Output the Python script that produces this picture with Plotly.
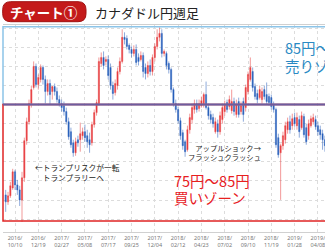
import plotly.graph_objects as go
import pandas as pd

# Weekly CAD/JPY candles, first week 2016-09-12
start_date = "2016-09-12"
opens = [77.24,76.64,77.16,77.84,79.22,78.10,77.67,76.81,78.71,81.90,83.53,85.09,86.47,88.28,86.72,87.16,88.19,87.16,86.12,86.81,
         86.12,86.55,86.12,85.43,85.09,84.91,84.40,83.53,82.67,81.72,80.86,81.98,81.98,82.33,82.67,82.33,81.98,81.72,83.28,84.31,
         85.09,88.53,89.05,88.71,88.88,88.19,86.64,86.03,86.64,87.84,88.71,90.78,90.69,90.09,89.74,89.40,89.74,89.05,88.88,89.22,
         88.19,87.67,88.36,87.84,89.05,90.00,90.78,91.12,89.40,89.40,88.53,88.02,86.29,85.09,84.57,83.62,82.59,81.81,81.12,82.84,
         83.71,84.57,85.09,84.66,84.91,85.00,85.86,84.74,84.14,83.88,82.67,83.36,82.67,83.71,84.40,85.17,84.83,84.48,85.26,84.14,
         85.26,84.40,85.26,84.74,86.12,87.16,87.84,86.55,85.95,85.60,85.43,86.29,85.86,85.69,85.60,85.00,84.57,82.16,80.86,81.47,
         81.98,82.84,83.53,83.19,83.88,83.19,83.71,83.02,83.97,83.02,82.33,83.19,83.53,83.71,83.19,82.84,82.50,81.98]
highs = [77.67,77.50,78.36,79.48,79.40,78.53,78.02,79.22,82.16,83.88,85.43,86.64,88.71,88.53,87.59,88.45,88.36,87.50,87.16,87.16,
         86.47,86.81,86.47,85.78,85.43,85.26,84.74,83.88,83.02,81.98,82.16,82.33,83.45,83.02,83.28,82.84,82.59,83.53,84.57,85.43,
         89.05,89.48,89.57,89.14,89.22,88.53,86.98,87.16,88.19,89.05,91.47,91.21,90.95,90.26,90.00,90.09,90.17,89.40,89.57,89.48,
         88.53,88.71,88.88,89.31,90.26,91.47,91.64,91.47,89.74,89.57,88.71,88.19,86.47,85.43,84.83,83.88,82.84,81.98,83.19,84.22,
         85.09,85.43,85.43,85.43,85.69,86.03,86.98,85.09,84.48,84.22,83.88,83.71,84.40,85.09,85.34,85.43,85.78,86.29,85.60,85.43,
         85.60,85.26,85.60,86.72,87.84,89.05,88.19,86.81,86.29,86.64,86.47,86.64,86.90,85.95,85.86,85.26,84.74,82.50,81.64,82.67,
         83.53,83.88,84.05,84.22,84.31,84.31,84.05,84.40,84.22,83.36,83.71,84.05,84.22,84.05,83.53,83.19,82.84,82.33]
lows = [75.78,76.38,76.98,77.67,77.67,77.24,76.29,74.91,78.36,81.55,83.28,84.74,86.29,86.47,86.29,86.90,86.72,85.09,85.78,85.00,
        85.43,85.78,85.17,84.83,84.40,84.05,83.28,81.98,81.29,80.52,80.60,81.38,80.95,81.98,81.81,81.29,80.86,81.47,83.02,84.05,
        84.91,88.28,88.02,88.36,87.16,86.29,85.43,85.78,86.29,87.59,88.53,90.17,89.74,89.40,89.05,89.14,88.36,88.36,88.71,87.33,
        87.16,87.33,87.50,87.50,88.71,89.74,90.43,89.05,89.14,88.02,87.67,86.03,84.83,84.31,83.36,81.98,81.12,80.52,80.95,82.50,
        83.36,84.22,84.31,84.40,84.74,84.74,84.57,83.71,83.36,83.02,82.50,82.16,82.41,83.36,84.05,84.31,84.57,84.22,84.05,83.88,
        83.88,84.14,83.53,84.40,85.86,86.98,86.12,85.43,85.09,85.43,85.09,85.43,85.00,84.91,84.57,84.31,81.29,80.43,76.81,81.12,
        81.64,82.50,82.50,82.84,83.10,82.84,82.16,82.84,82.16,81.55,81.98,83.02,83.28,82.84,82.33,81.98,81.12,80.95]
closes = [76.64,77.16,78.02,79.22,78.10,77.67,76.81,78.71,81.90,83.53,85.09,86.29,88.28,86.72,87.33,88.19,87.16,86.12,86.81,85.86,
          86.55,86.12,85.43,85.09,84.74,84.40,83.53,82.24,81.55,80.86,81.81,81.72,82.50,82.67,82.16,81.81,81.55,83.28,84.31,85.17,
          88.71,89.05,88.36,88.88,87.50,86.64,85.95,86.81,87.84,88.71,90.78,90.60,90.00,89.74,89.40,89.74,88.62,88.71,89.22,87.84,
          87.67,88.36,87.84,89.05,90.00,90.78,91.12,89.40,89.57,88.36,88.02,86.29,85.09,84.57,83.62,82.33,81.47,80.95,82.84,83.88,
          84.74,85.09,84.57,85.09,85.34,85.86,84.74,84.05,83.71,83.36,83.53,82.67,84.05,84.74,85.00,84.57,85.43,85.26,84.40,85.00,
          84.14,84.91,84.14,86.47,87.59,88.19,86.47,85.69,85.43,86.29,86.12,85.69,85.26,85.17,84.83,84.57,81.55,80.69,81.47,82.33,
          83.19,83.53,82.84,83.79,83.36,83.88,82.67,84.05,82.41,81.81,83.36,83.79,83.88,83.10,82.67,82.41,81.98,81.47]

tick_dates = ["2016-10-10","2016-12-19","2017-02-27","2017-05-08","2017-07-17","2017-09-25","2017-12-04",
              "2018-02-12","2018-04-23","2018-07-02","2018-09-10","2018-11-19","2019-01-28","2019-04-08"]
tick_labels = [d[:4] + "/<br>" + d[5:7] + "/" + d[8:10] for d in tick_dates]

dates = pd.date_range(start_date, periods=len(closes), freq="7D")

fig = go.Figure(go.Candlestick(
    x=dates, open=opens, high=highs, low=lows, close=closes,
    increasing=dict(line=dict(color="rgba(232,70,70,0.55)", width=1), fillcolor="#e8333a"),
    decreasing=dict(line=dict(color="rgba(50,100,190,0.55)", width=1), fillcolor="#1f5cb8"),
    whiskerwidth=0, hoverinfo="skip",
))

W, H = 325, 250
ml, mr, mt, mb = 3, 0, 25, 18
pw, ph = W - ml - mr, H - mt - mb
def px(xp):
    return (xp - ml) / pw
def py(yp):
    return (H - mb - yp) / ph

# rounded pill for title
x0, x1, y0, y1 = px(2.7), px(86), py(21.7), py(1.7)
rx, ry = 8 / pw, 8 / ph
pill = (f"M {x0+rx},{y0} L {x1-rx},{y0} Q {x1},{y0} {x1},{y0+ry} L {x1},{y1-ry} "
        f"Q {x1},{y1} {x1-rx},{y1} L {x0+rx},{y1} Q {x0},{y1} {x0},{y1-ry} "
        f"L {x0},{y0+ry} Q {x0},{y0} {x0+rx},{y0} Z")

shapes = [
    dict(type="path", path=pill, xref="paper", yref="paper", fillcolor="#c41a1a",
         line=dict(color="#a01010", width=1), layer="above"),
    dict(type="rect", xref="paper", yref="y", x0=0, x1=1.3, y0=85, y1=91.7,
         line=dict(color="#8cc4e8", width=1.5), layer="above"),
    dict(type="rect", xref="paper", yref="y", x0=0, x1=1.3, y0=75, y1=85,
         line=dict(color="#e02424", width=1.5), layer="above"),
    dict(type="line", xref="paper", yref="y", x0=0, x1=1.3, y0=85, y1=85,
         line=dict(color="#6e5c9e", width=2), layer="above"),
]

jp = "Noto Sans CJK JP"
annotations = [
    dict(text="<b>チャート①</b>", x=px(44), y=py(12.5), xref="paper", yref="paper",
         showarrow=False, font=dict(family=jp, size=13.5, color="white"), xanchor="center", yanchor="middle"),
    dict(text="カナダドル円週足", x=px(93), y=py(13), xref="paper", yref="paper",
         showarrow=False, font=dict(family=jp, size=13, color="#222"), xanchor="left", yanchor="middle"),
    dict(text="←トランプリスクが一転<br>　トランプラリーへ", x=px(33), y=py(172.5), xref="paper", yref="paper",
         showarrow=False, align="left", font=dict(family=jp, size=7.7, color="#222"), xanchor="left", yanchor="middle"),
    dict(text="アップルショック→<br>フラッシュクラッシュ", x=px(264), y=py(152), xref="paper", yref="paper",
         showarrow=False, align="right", font=dict(family=jp, size=7.3, color="#222"), xanchor="right", yanchor="middle"),
    dict(text="75円～85円", x=px(172), y=py(180), xref="paper", yref="paper",
         showarrow=False, align="left", font=dict(family=jp, size=14.5, color="#e8201f"), xanchor="left", yanchor="middle"),
    dict(text="買いゾーン", x=px(172), y=py(197.5), xref="paper", yref="paper",
         showarrow=False, align="left", font=dict(family=jp, size=14.5, color="#e8201f"), xanchor="left", yanchor="middle"),
    dict(text="85円～", x=px(283), y=py(47.5), xref="paper", yref="paper",
         showarrow=False, align="left", font=dict(family=jp, size=14.5, color="#2a8ac4"), xanchor="left", yanchor="middle"),
    dict(text="売りゾーン", x=px(283), y=py(65.5), xref="paper", yref="paper",
         showarrow=False, align="left", font=dict(family=jp, size=14.5, color="#2a8ac4"), xanchor="left", yanchor="middle"),
]

fig.update_layout(
    width=W, height=H, margin=dict(l=ml, r=mr, t=mt, b=mb),
    paper_bgcolor="white", plot_bgcolor="white", showlegend=False,
    shapes=shapes, annotations=annotations,
    xaxis=dict(range=[pd.Timestamp(start_date) - pd.Timedelta(days=8.1), pd.Timestamp(start_date) + pd.Timedelta(days=959.3)],
               rangeslider=dict(visible=False), tickvals=tick_dates, ticktext=tick_labels,
               tickfont=dict(family="Noto Sans", size=5.5, color="#777"), ticks="", ticklen=0,
               ticklabeloverflow="allow",
               showgrid=True, gridcolor="#dcdcdc", griddash="dot", gridwidth=1,
               showline=True, linecolor="#d0d0d0", mirror=True, zeroline=False),
    yaxis=dict(range=[74.05, 91.84], showticklabels=False, ticks="", tick0=85, dtick=1.64,
               showgrid=True, gridcolor="#dcdcdc", griddash="dot", gridwidth=1,
               showline=False, zeroline=False),
)

fig.write_html("out.html")
